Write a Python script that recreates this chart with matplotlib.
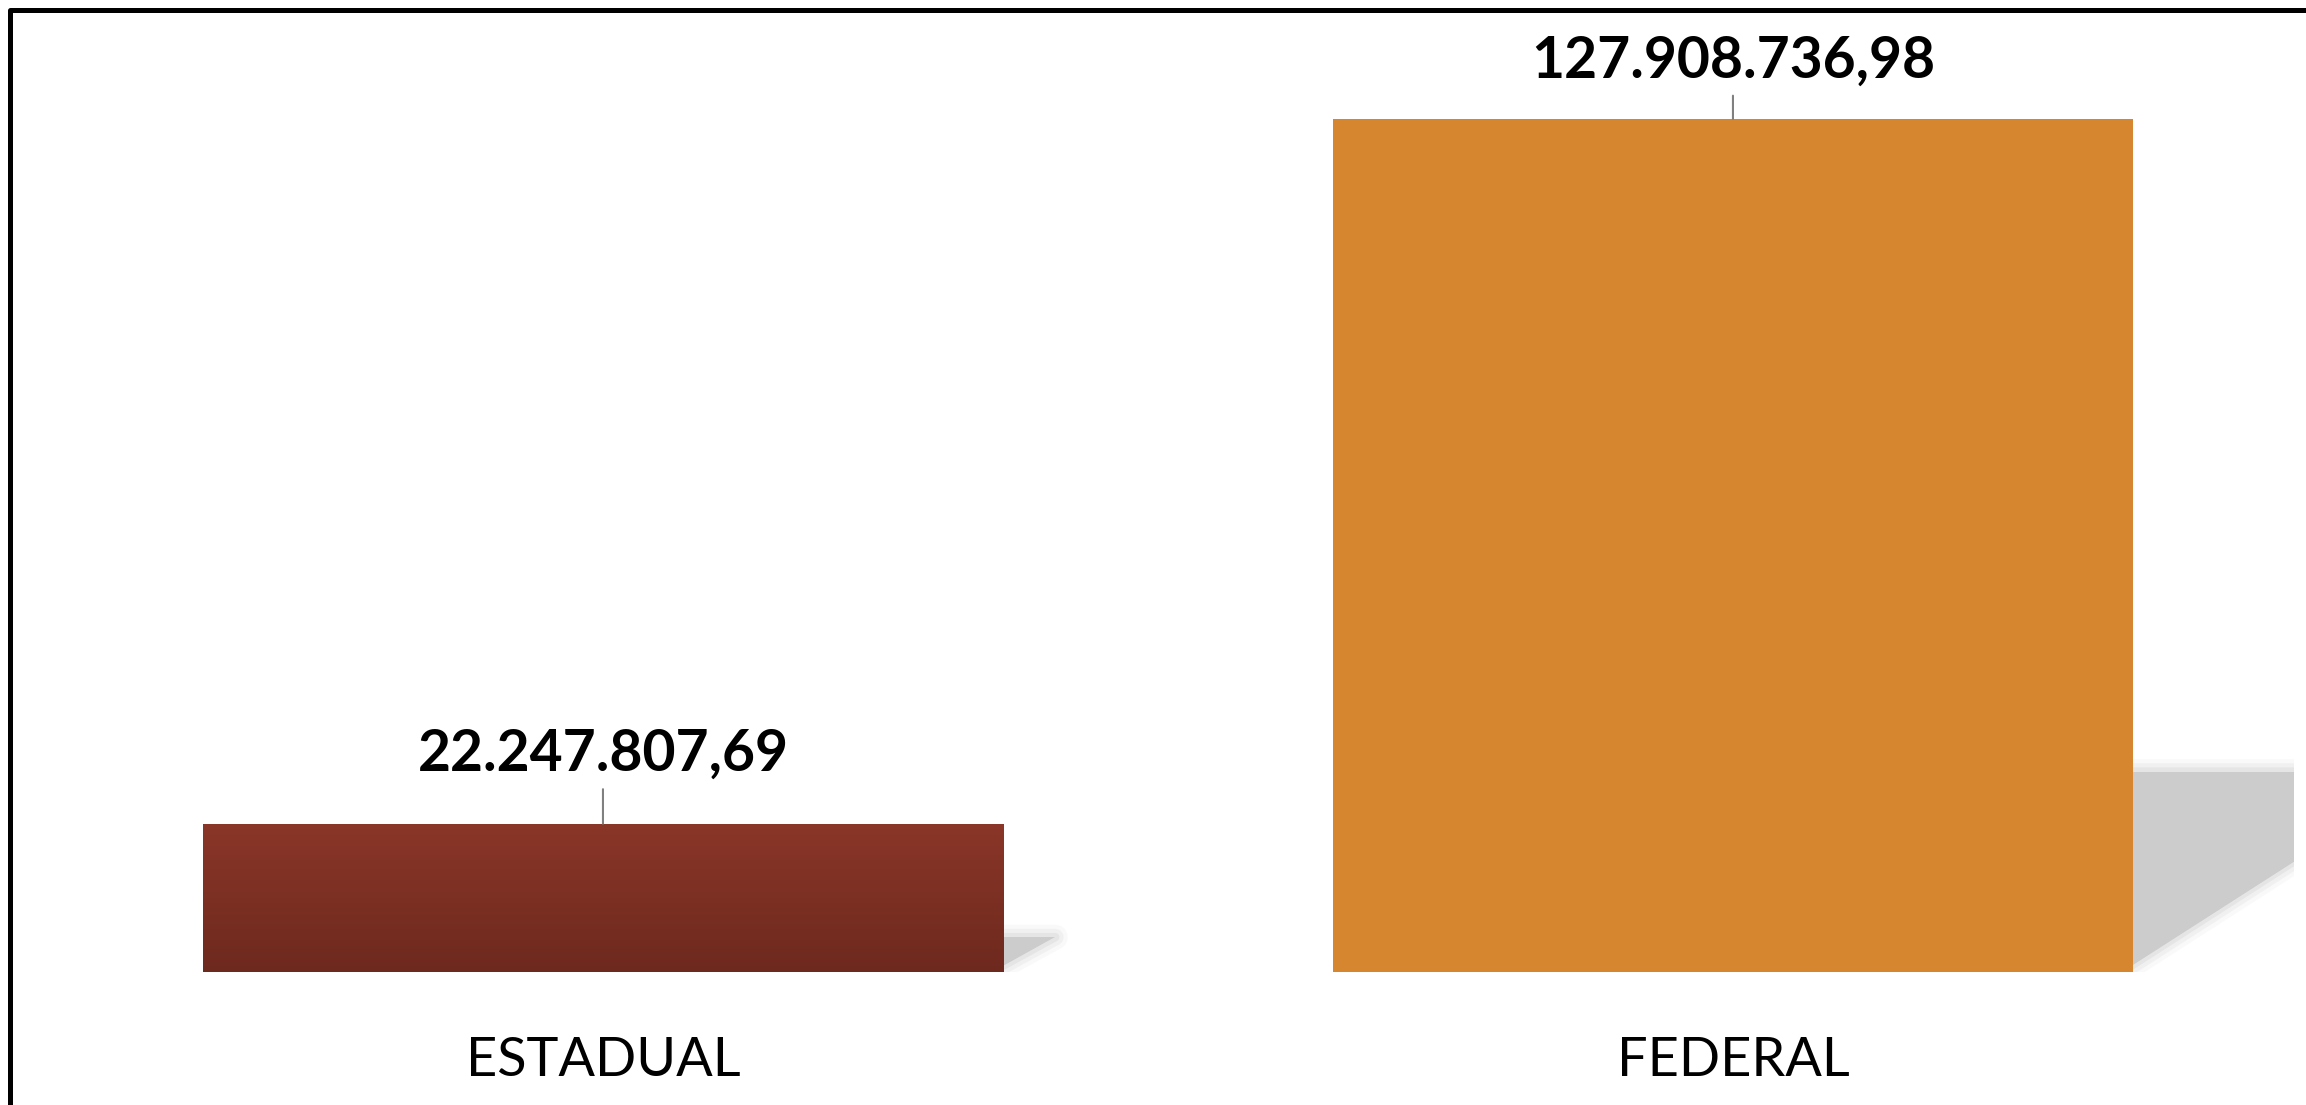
import numpy as np
import matplotlib.pyplot as plt
from matplotlib.patches import Polygon, Rectangle
from matplotlib.colors import LinearSegmentedColormap

# data
categories = ["ESTADUAL", "FEDERAL"]
values = [22247807.69, 127908736.98]
value_labels = ["22.247.807,69", "127.908.736,98"]

# style
bar_colors = ["#7f3024", "#d5862e"]
gradient_top = "#8a3628"
gradient_bottom = "#6e291e"
shadow_color = "#cccccc"
label_offsets = [38, 30]   # points from bar top to label baseline

plt.rcParams['font.family'] = ['Lato', 'DejaVu Sans']

fig = plt.figure(figsize=(23.06, 11.05), dpi=100)
ax = fig.add_axes([0, 133 / 1105, 2294 / 2306, 972 / 1105])

x = np.arange(len(categories))
bars = ax.bar(x, values, width=0.708, color=bar_colors, zorder=3)
ax.set_xlim(-0.5336, 1.4965)
ax.set_ylim(0, max(values) * 972 / 853)

# gradient on first bar
b0 = bars[0]
cmap = LinearSegmentedColormap.from_list("grad", [gradient_bottom, gradient_top])
grad = np.linspace(0, 1, 256).reshape(-1, 1)
im = ax.imshow(grad, cmap=cmap, aspect='auto', origin='lower', zorder=4,
               extent=[b0.get_x(), b0.get_x() + b0.get_width(), 0, b0.get_height()])
im.set_clip_path(b0)

# soft perspective shadows to the right of each bar
p0 = ax.transData.transform((0, 0))
p1 = ax.transData.transform((1, 1))
px_x = p1[0] - p0[0]
px_y = p1[1] - p0[1]
for b in bars:
    right = b.get_x() + b.get_width()
    hs = 0.235 * b.get_height()
    dx = 1.5 * hs * px_y / px_x
    pts = [(right - 0.01, 0), (right - 0.01, hs), (right + dx, hs)]
    ax.add_patch(Polygon(pts, closed=True, facecolor=shadow_color, edgecolor='none', zorder=1))
    for lw, a in [(18, 0.10), (12, 0.18), (6, 0.3)]:
        ax.add_patch(Polygon(pts, closed=True, facecolor='none', edgecolor=shadow_color,
                             lw=lw, alpha=a, joinstyle='round', zorder=1))

# value labels with leader lines
for b, lab, off in zip(bars, value_labels, label_offsets):
    cx = b.get_x() + b.get_width() / 2
    ax.annotate(lab, xy=(cx, b.get_height()), xytext=(0, off), textcoords='offset points',
                ha='center', va='baseline', fontsize=41, fontweight='bold', color='black',
                arrowprops=dict(arrowstyle='-', color='#808080', lw=1.5, shrinkA=4, shrinkB=0),
                zorder=5)

ax.set_xticks(x)
ax.set_xticklabels(categories, fontsize=39)
ax.tick_params(axis='x', length=0, pad=46)
ax.set_yticks([])
for s in ax.spines.values():
    s.set_visible(False)

# outer frame (right and bottom edges fall outside the picture)
fig.add_artist(Rectangle((9.5 / 2306, -0.05), 1.2, (1105 - 9.5) / 1105 + 0.05,
                         transform=fig.transFigure, fill=False, lw=3.6,
                         edgecolor='black', joinstyle='round'))

fig.savefig("out.png", dpi=100)
